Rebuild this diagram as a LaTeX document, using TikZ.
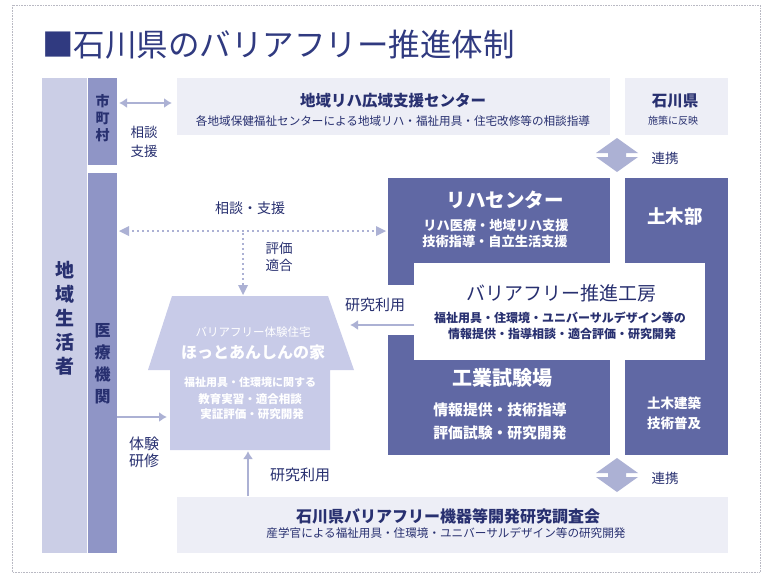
\documentclass[tikz,border=0pt]{standalone}
\usepackage{fontspec}
\setmainfont{Noto Sans CJK JP}
\usetikzlibrary{arrows.meta,calc}
\definecolor{navy}{RGB}{40,48,112}
\definecolor{titlenavy}{RGB}{48,58,128}
\definecolor{darkblk}{RGB}{96,104,164}
\definecolor{midcol}{RGB}{143,149,198}
\definecolor{lightcol}{RGB}{203,206,230}
\definecolor{housecol}{RGB}{200,203,232}
\definecolor{palebox}{RGB}{237,238,246}
\definecolor{arrowcol}{RGB}{172,177,212}
\definecolor{bordercol}{RGB}{185,185,195}
\newcommand{\fs}[2]{\fontsize{#1}{#2}\selectfont}
\begin{document}
\begin{tikzpicture}[x=1pt,y=-1pt,
  blk/.style={fill=#1, draw=none, inner sep=0pt, outer sep=0pt, anchor=north west},
  lbl/.style={text=navy, inner sep=0pt, align=center},
  wlbl/.style={text=white, inner sep=0pt, align=center},
  dblarrow/.style={draw=arrowcol, line width=2.4pt, {Latex[length=8pt,width=10pt]}-{Latex[length=8pt,width=10pt]}},
  onearrow/.style={draw=arrowcol, line width=2.4pt, -{Latex[length=8pt,width=10pt]}},
  dotline/.style={draw=arrowcol, line width=2.2pt, dash pattern=on 1.6pt off 3.4pt},
  renkei/.style={fill=arrowcol, draw=none}
]
\useasboundingbox (0,0) rectangle (765,576);
\fill[white] (0,0) rectangle (765,576);
\draw[bordercol, densely dotted, line width=0.6pt] (12,5) rectangle (760,572);

% title
\node[anchor=west, inner sep=0pt, text=titlenavy, font=\fs{31.5}{36}] (title) at (42,45) {■石川県のバリアフリー推進体制};

% left columns
\node[blk=lightcol, minimum width=45pt, minimum height=475pt] (seikatsu) at (42,78) {};
\node[lbl, font=\bfseries\fs{19}{24}] at (64.5,318) {地\\域\\生\\活\\者};
\node[blk=midcol, minimum width=29pt, minimum height=87pt] (shichoson) at (88,78) {};
\node[lbl, font=\bfseries\fs{14}{17}] at (102.5,118) {市\\町\\村};
\node[blk=midcol, minimum width=29pt, minimum height=380pt] (iryo) at (88,173) {};
\node[lbl, font=\bfseries\fs{16}{22}] at (102.5,364) {医\\療\\機\\関};

% top boxes
\node[blk=palebox, minimum width=433pt, minimum height=57pt] (rihakoiki) at (177,78) {};
\node[lbl, font=\bfseries\fs{15.5}{18}] at (393,101) {地域リハ広域支援センター};
\node[lbl, font=\fs{11.6}{14}] at (393,121) {各地域保健福祉センターによる地域リハ・福祉用具・住宅改修等の相談指導};
\node[blk=palebox, minimum width=103pt, minimum height=57pt] (ishikawa) at (625,78) {};
\node[lbl, font=\bfseries\fs{15.5}{18}] at (675,101) {石川県};
\node[lbl, font=\fs{10}{12}] at (673,121) {施策に反映};

% dark group
\node[blk=darkblk, minimum width=222pt, minimum height=107pt] (rihac) at (388,178) {};
\node[blk=darkblk, minimum width=103pt, minimum height=277pt] (doboku) at (625,178) {};
\node[blk=darkblk, minimum width=222pt, minimum height=120pt] (kogyo) at (388,335) {};
\node[blk=white, minimum width=291pt, minimum height=97pt] (kobo) at (414,263) {};

\node[wlbl, font=\bfseries\fs{19.5}{22}] at (505,200) {リハセンター};
\node[wlbl, font=\bfseries\fs{13.2}{16}] at (496,225) {リハ医療・地域リハ支援};
\node[wlbl, font=\bfseries\fs{13.2}{16}] at (495,241) {技術指導・自立生活支援};
\node[wlbl, font=\bfseries\fs{18.5}{22}] at (675,216) {土木部};

\node[lbl, font=\fs{19}{22}] at (561,293) {バリアフリー推進工房};
\node[lbl, font=\bfseries\fs{12}{14}] at (560,318) {福祉用具・住環境・ユニバーサルデザイン等の};
\node[lbl, font=\bfseries\fs{12}{14}] at (562,334) {情報提供・指導相談・適合評価・研究開発};

\node[wlbl, font=\bfseries\fs{20}{24}] at (502,378) {工業試験場};
\node[wlbl, font=\bfseries\fs{14.8}{18}] at (500,410) {情報提供・技術指導};
\node[wlbl, font=\bfseries\fs{14.8}{18}] at (500,433) {評価試験・研究開発};
\node[wlbl, font=\bfseries\fs{13.5}{20}] at (674,413) {土木建築\\技術普及};

% house
\fill[housecol] (172,296) -- (328,296) -- (354,370) -- (330,370) -- (330,450)
  -- (170,450) -- (170,370) -- (148,370) -- cycle;
\coordinate (houseTop) at (243,295);
\coordinate (houseRight) at (350,325);
\coordinate (houseLeft) at (167,417);
\coordinate (houseBottom) at (248,451);
\node[wlbl, font=\fs{11.5}{14}] (hs1) at (253,332) {バリアフリー体験住宅};
\node[wlbl, font=\bfseries\fs{16}{19}] (hs2) at (253,352) {ほっとあんしんの家};
\node[wlbl, font=\bfseries\fs{11}{14}] at (250,382) {福祉用具・住環境に関する};
\node[wlbl, font=\bfseries\fs{11.5}{14}] at (250,399) {教育実習・適合相談};
\node[wlbl, font=\bfseries\fs{11.5}{14}] at (252,414) {実証評価・研究開発};

% bottom box
\node[blk=palebox, minimum width=551pt, minimum height=56pt] (chosakai) at (177,497) {};
\node[lbl, font=\bfseries\fs{16}{19}] at (448,516) {石川県バリアフリー機器等開発研究調査会};
\node[lbl, font=\fs{11.6}{14}] at (446,533) {産学官による福祉用具・住環境・ユニバーサルデザイン等の研究開発};

% connectors
\draw[dblarrow] ($(shichoson.north east)+(2,25)$) -- ($(rihakoiki.north west)+(-5,25)$);
\node[lbl, font=\fs{13.5}{19}] at (144,142) {相談\\支援};

\draw[dotline] ($(iryo.north east)+(10,58)$) -- ($(rihac.north west)+(-10,53)$);
\fill[arrowcol] ($(iryo.north east)+(2,58)$) -- ++(10,-5) -- ++(0,10) -- cycle;
\fill[arrowcol] ($(rihac.north west)+(-2,53)$) -- ++(-10,-5) -- ++(0,10) -- cycle;
\node[lbl, font=\fs{14}{17}] at (250,208) {相談・支援};
\coordinate (junc) at (243,233);
\draw[dotline] (junc) -- ($(houseTop)+(0,-9)$);
\fill[arrowcol] (houseTop) -- ++(-5,-10) -- ++(10,0) -- cycle;
\node[lbl, font=\fs{13.5}{17}] at (279,257) {評価\\適合};

\draw[onearrow] ($(kobo.north west)+(0,62)$) -- (houseRight);
\node[lbl, font=\fs{15}{18}] at (375,305) {研究利用};

\draw[onearrow] ($(iryo.north east)+(0,244)$) -- (houseLeft);
\node[lbl, font=\fs{15}{17}] at (144,452) {体験\\研修};

\draw[onearrow] ($(chosakai.north west)+(71,-1)$) -- (houseBottom);
\node[lbl, font=\fs{15}{18}] at (300,475) {研究利用};

% renkei arrows
\coordinate (rk1) at (617,155);
\coordinate (rk2) at (617,475);
\foreach \c in {rk1,rk2}{
  \fill[renkei] ($(\c)+(0,-17)$) -- ++(21,15) -- ++(-12,0) -- ++(0,4) -- ++(12,0)
    -- ++(-21,15) -- ++(-21,-15) -- ++(12,0) -- ++(0,-4) -- ++(-12,0) -- cycle;
}
\node[lbl, font=\fs{13.5}{16}] at (665,158) {連携};
\node[lbl, font=\fs{13.5}{16}] at (665,478) {連携};
\end{tikzpicture}
\end{document}
